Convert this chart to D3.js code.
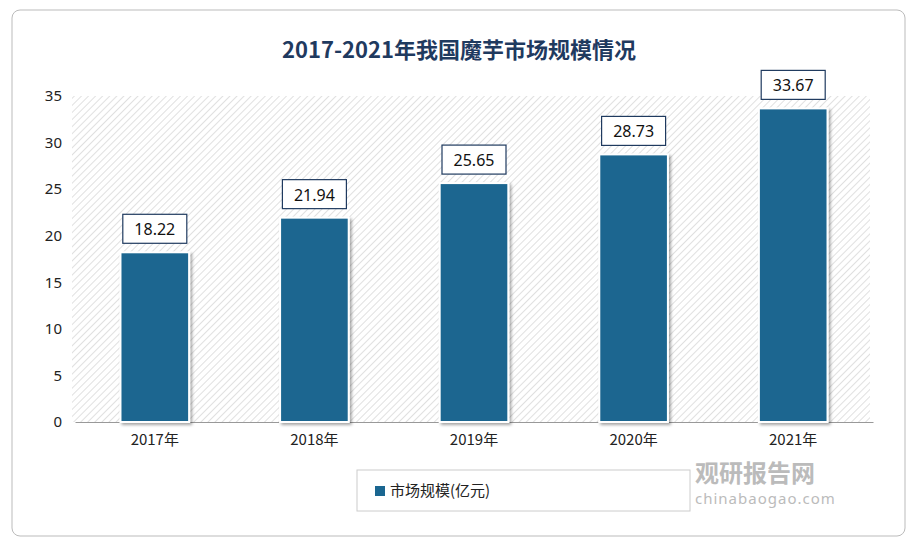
<!DOCTYPE html><html><head><meta charset="utf-8"><script src="https://cdn.jsdelivr.net/npm/d3@7"></script>
<style>body{margin:0;background:#fff}</style></head><body><svg id="c" width="918" height="550"></svg>
<script>
const categories=["2017年","2018年","2019年","2020年","2021年"];
const values=[18.22,21.94,25.65,28.73,33.67];
const yTicks=[0,5,10,15,20,25,30,35];
const seriesName="市场规模(亿元)";
const svg=d3.select("#c");
const defs=svg.append("defs");
const p=defs.append("pattern").attr("id","h").attr("patternUnits","userSpaceOnUse").attr("width",5).attr("height",5).attr("patternTransform","rotate(45)");
p.append("rect").attr("width",5).attr("height",5).attr("fill","#fff");
p.append("line").attr("x1",0).attr("y1",0).attr("x2",0).attr("y2",5).attr("stroke","#d8d8d8").attr("stroke-width",1.6);
const f=defs.append("filter").attr("id","s").attr("x","-20%").attr("y","-20%").attr("width","150%").attr("height","150%");
f.append("feDropShadow").attr("dx",2).attr("dy",2).attr("stdDeviation",1.5).attr("flood-color","#000").attr("flood-opacity",0.35);
svg.append("rect").attr("x",12).attr("y",10).attr("width",893).attr("height",526).attr("rx",8).attr("fill","#fff").attr("stroke","#bbb");
svg.append("text").attr("x",459).attr("y",58).attr("text-anchor","middle").attr("font-family","Noto Sans CJK SC").attr("font-weight","bold").attr("font-size",22).attr("fill","#1f3a5f").text("2017-2021年我国魔芋市场规模情况");
const x=d3.scaleBand().domain(categories).range([75,873]).paddingInner(0.57).paddingOuter(0.285);
const y=d3.scaleLinear().domain([0,35]).range([422,96]);
svg.append("rect").attr("x",72).attr("y",y(35)).attr("width",798).attr("height",y(0)-y(35)).attr("fill","url(#h)");
const ya=svg.append("g").attr("transform","translate(72,0)").call(d3.axisLeft(y).tickValues(yTicks).tickSize(0).tickPadding(10));
ya.select(".domain").remove();
ya.selectAll("text").attr("font-family","Noto Sans").attr("font-size",15).attr("fill","#222");
const xa=svg.append("g").attr("transform","translate(0,422)").call(d3.axisBottom(x).tickSize(0).tickPadding(12));
xa.select(".domain").attr("stroke","#999");
xa.selectAll("text").attr("font-family","Noto Sans CJK SC").attr("font-size",15).attr("fill","#222");
const g=svg.selectAll(".b").data(values).enter().append("g");
g.append("rect").attr("x",(d,i)=>x(categories[i])).attr("y",d=>y(d)).attr("width",x.bandwidth()).attr("height",d=>y(0)-y(d)).attr("fill","#1a6690").attr("stroke","#fff").attr("stroke-width",2).attr("filter","url(#s)");
g.append("rect").attr("x",(d,i)=>x(categories[i])+x.bandwidth()/2-32).attr("y",d=>y(d)-38).attr("width",64).attr("height",29).attr("fill","#fff").attr("stroke","#1f3a5f").attr("stroke-width",1.2);
g.append("text").attr("x",(d,i)=>x(categories[i])+x.bandwidth()/2).attr("y",d=>y(d)-17).attr("text-anchor","middle").attr("font-family","Noto Sans").attr("font-size",16).attr("fill","#111").text(d=>d.toFixed(2));
svg.append("rect").attr("x",357).attr("y",470).attr("width",333).attr("height",41).attr("fill","#fff").attr("stroke","#ccc");
svg.append("rect").attr("x",375).attr("y",486).attr("width",10).attr("height",10).attr("fill","#1a6690");
svg.append("text").attr("x",390).attr("y",496).attr("font-family","Noto Sans CJK SC").attr("font-size",15).attr("fill","#222").text(seriesName);
svg.append("text").attr("x",695).attr("y",482).attr("font-family","Noto Sans CJK SC").attr("font-weight","bold").attr("font-size",24).attr("fill","#bbb").text("观研报告网");
svg.append("text").attr("x",695).attr("y",504).attr("font-family","Noto Sans").attr("font-size",15).attr("fill","#bbb").attr("letter-spacing",1).text("chinabaogao.com");
</script></body></html>
